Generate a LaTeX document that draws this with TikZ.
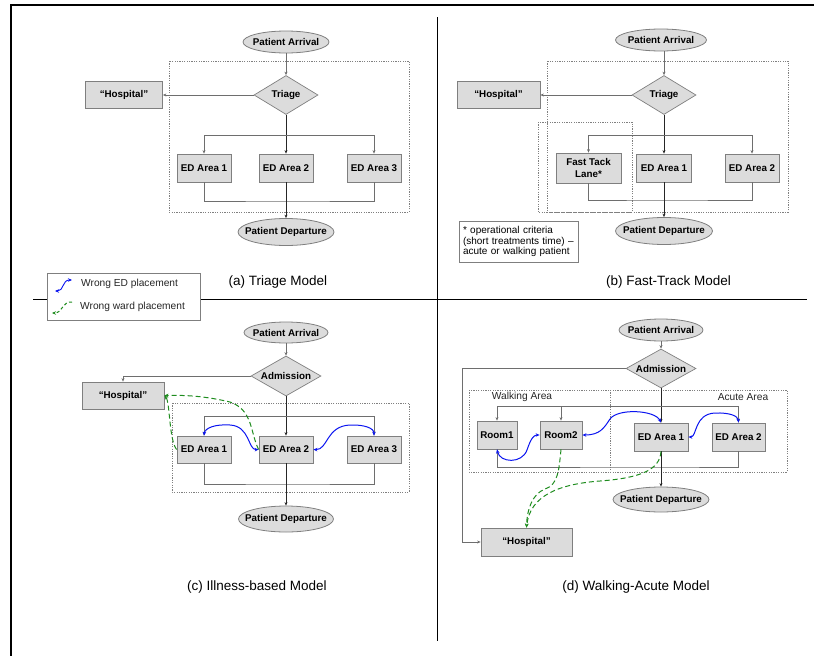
\documentclass[tikz,border=0pt]{standalone}
\usepackage{fontspec}
\setmainfont{Liberation Sans}
\usetikzlibrary{shapes.geometric,arrows.meta}
\definecolor{boxfill}{HTML}{DCDCDC}
\definecolor{boxline}{HTML}{7F7F7F}
\definecolor{flowgray}{HTML}{6E6E6E}
\definecolor{edblue}{HTML}{0A14F0}
\definecolor{wardgreen}{HTML}{1E8C1E}
% text that must not widen an ellipse or diamond
\newcommand\flattext[1]{\makebox[0pt]{#1}}

\begin{document}
\begin{tikzpicture}[x=1pt,y=-1pt,
  nodefont/.style={font=\fontsize{9.8}{11.5}\selectfont\bfseries},
  box/.style={rectangle, draw=boxline, fill=boxfill, line width=0.8pt, inner sep=0pt, align=center, nodefont},
  term/.style={ellipse, draw=boxline, fill=boxfill, line width=0.8pt, inner sep=0pt, nodefont},
  decision/.style={diamond, draw=boxline, fill=boxfill, line width=0.7pt, inner sep=0pt, nodefont},
  flow/.style={draw=flowgray, line width=0.7pt},
  spine/.style={draw=black!85, line width=1pt},
  tip/.style={-{Stealth[length=3.5pt,width=3pt]}},
  zone/.style={draw=gray, line width=0.5pt, dash pattern=on 1.2pt off 1.2pt},
  moveED/.style={draw=edblue, line width=1pt, {Stealth[length=4pt,width=3.5pt]}-{Stealth[length=4pt,width=3.5pt]}},
  moveWard/.style={draw=wardgreen, line width=1pt, dash pattern=on 5pt off 3pt, -{Stealth[length=4pt,width=3.5pt]}},
  caption/.style={font=\fontsize{13.5}{16}\selectfont, inner sep=0pt},
  note/.style={font=\fontsize{10.2}{11}\selectfont, inner sep=0pt, text=black!85},
]
\useasboundingbox (0,0) rectangle (814,656);

% ---------- frame and quadrant dividers ----------
\draw[line width=1.4pt] (814,5) -- (11,5) -- (11,656);
\draw[line width=1pt] (437.5,17) -- (437.5,641);
\draw[line width=1pt] (33,299) -- (807,299);

% ---------- legend ----------
\node[draw=boxline, fill=white, line width=0.6pt, minimum width=153pt, minimum height=47pt, inner sep=0pt] (legend) at (123.5,296.5) {};
\coordinate (lgB1) at (55,291);
\coordinate (lgB2) at (72,280);
\draw[moveED, line width=0.9pt] (lgB1) .. controls (64,291) and (62,280) .. (lgB2);
\node[note, anchor=west] (lgBt) at (81,283.5) {Wrong ED placement};
\coordinate (lgG1) at (72,302);
\coordinate (lgG2) at (52,313);
\draw[moveWard, dash pattern=on 3pt off 2.5pt] (lgG1) .. controls (62,301) and (63,313) .. (lgG2);
\node[note, anchor=west] (lgGt) at (80,307) {Wrong ward placement};

% ---------- (a) Triage model ----------
\draw[zone] (169,61) rectangle (409,212);
\node[term, minimum width=86pt, minimum height=22pt] (aArr) at (286,42) {\flattext{Patient Arrival}};
\node[decision, minimum width=64pt, minimum height=39pt] (aTri) at (286,95) {\flattext{Triage}};
\node[box, minimum width=77pt, minimum height=27pt] (aHos) at (124,95) {“Hospital”};
\node[box, minimum width=54pt, minimum height=28pt] (aE1) at (204,168) {ED Area 1};
\node[box, minimum width=54pt, minimum height=28pt] (aE2) at (286,168) {ED Area 2};
\node[box, minimum width=54pt, minimum height=28pt] (aE3) at (374,168) {ED Area 3};
\node[term, minimum width=96pt, minimum height=27pt] (aDep) at (286,232) {\flattext{Patient Departure}};
\node[caption] (aCap) at (278,282) {(a) Triage Model};
\coordinate (aBr) at (286,135);
\coordinate (aMg) at (286,201);
\draw[flow,tip] (aArr.south) -- (aTri.north);
\draw[flow,tip] (aTri.west) -- (aHos.east);
\draw[spine,tip] (aTri.south) -- (aE2.north);
\draw[flow,tip] (aBr) -| (aE1.north);
\draw[flow,tip] (aBr) -| (aE3.north);
\draw[flow] (aE1.south) |- (aMg) -| (aE3.south);
\draw[spine,tip] (aE2.south) -- (aDep.north);

% ---------- (b) Fast-track model ----------
\draw[zone] (547,61) rectangle (788,212);
\draw[zone] (538,122) rectangle (632,212);
\node[term, minimum width=91pt, minimum height=22pt] (bArr) at (661,40) {\flattext{Patient Arrival}};
\node[decision, minimum width=64pt, minimum height=39pt] (bTri) at (664,95) {\flattext{Triage}};
\node[box, minimum width=83pt, minimum height=27pt] (bHos) at (498.5,95) {“Hospital”};
\node[box, minimum width=65pt, minimum height=30pt] (bFT) at (588.5,168) {Fast Tack\\Lane*};
\node[box, minimum width=55pt, minimum height=28pt] (bE1) at (664,168) {ED Area 1};
\node[box, minimum width=54pt, minimum height=28pt] (bE2) at (752,168) {ED Area 2};
\node[term, minimum width=97pt, minimum height=27pt] (bDep) at (664,231) {\flattext{Patient Departure}};
\node[draw=boxline, fill=white, line width=0.6pt, text width=111pt, minimum height=41pt, inner sep=4pt, align=left,
      font=\fontsize{10}{10.6}\selectfont] (bNote) at (518.5,241.5)
      {* operational criteria\\(short treatments time) –\\acute or walking patient};
\node[caption] (bCap) at (668.5,282) {(b) Fast-Track Model};
\coordinate (bBr) at (664,135);
\coordinate (bMg) at (664,200);
\draw[flow,tip] (bArr.south -| bTri.north) -- (bTri.north);
\draw[flow,tip] (bTri.west) -- (bHos.east);
\draw[spine,tip] (bTri.south) -- (bE1.north);
\draw[flow,tip] (bBr) -| (bFT.north);
\draw[flow,tip] (bBr) -| (bE2.north);
\draw[flow] (bFT.south) |- (bMg) -| (bE2.south);
\draw[spine,tip] (bE1.south) -- (bDep.north);

% ---------- (c) Illness-based model ----------
\draw[zone] (172,403) rectangle (409,492);
\node[term, minimum width=84pt, minimum height=21pt] (cArr) at (286,332.5) {\flattext{Patient Arrival}};
\node[decision, minimum width=70pt, minimum height=40pt] (cAdm) at (286,376) {\flattext{Admission}};
\node[box, minimum width=82pt, minimum height=27pt] (cHos) at (123,395.5) {“Hospital”};
\node[box, minimum width=54pt, minimum height=27pt] (cE1) at (204,449.5) {ED Area 1};
\node[box, minimum width=54pt, minimum height=27pt] (cE2) at (286,449.5) {ED Area 2};
\node[box, minimum width=54pt, minimum height=27pt] (cE3) at (374,449.5) {ED Area 3};
\node[term, minimum width=95pt, minimum height=26pt] (cDep) at (286,519) {\flattext{Patient Departure}};
\node[caption] (cCap) at (257,587) {(c) Illness-based Model};
\coordinate (cBr) at (286,416);
\coordinate (cMg) at (286,484);
\draw[flow,tip] (cArr.south) -- (cAdm.north);
\draw[flow,tip] (cAdm.west) -| (cHos.north);
\draw[spine,tip] (cAdm.south) -- (cE2.north);
\draw[flow,tip] (cBr) -| (cE1.north);
\draw[flow,tip] (cBr) -| (cE3.north);
\draw[flow] (cE1.south) |- (cMg) -| (cE3.south);
\draw[spine,tip] (cE2.south) -- (cDep.north);
% transfers between ED areas
\draw[moveED] (cE2.west) .. controls (248,450) and (250,426) .. (230,425)
                         .. controls (215,424) and (205,428) .. (cE1.north);
\draw[moveED] (cE2.east) .. controls (328,450) and (326,426) .. (350,425)
                         .. controls (364,424.5) and (374,428) .. (cE3.north);
% transfers to the ward
\draw[moveWard] (cE2.west) .. controls (250,432) and (253,410) .. (230,402)
                           .. controls (205,396) and (185,395) .. (cHos.east);
\draw[moveWard] (cE1.west) .. controls (169,440) and (170,402) .. (cHos.east);

% ---------- (d) Walking-acute model ----------
\draw[zone] (469,390) rectangle (787,472);
\draw[zone] (610,390) -- (610,472);
\node[note] (dWalk) at (522,397) {Walking Area};
\node[note] (dAcute) at (743,397) {Acute Area};
\node[term, minimum width=84pt, minimum height=22pt] (dArr) at (661,330) {\flattext{Patient Arrival}};
\node[decision, minimum width=70pt, minimum height=39pt] (dAdm) at (661,368.5) {\flattext{Admission}};
\node[box, minimum width=91pt, minimum height=28pt] (dHos) at (526.5,542) {“Hospital”};
\node[box, minimum width=40pt, minimum height=28pt] (dR1) at (497,435) {Room1};
\node[box, minimum width=42pt, minimum height=28pt] (dR2) at (561,435) {Room2};
\node[box, minimum width=54pt, minimum height=28pt] (dE1) at (661,437) {ED Area 1};
\node[box, minimum width=53pt, minimum height=28pt] (dE2) at (738.5,437) {ED Area 2};
\node[term, minimum width=96pt, minimum height=25pt] (dDep) at (661,499.5) {\flattext{Patient Departure}};
\node[caption] (dCap) at (636,587) {(d) Walking-Acute Model};
\coordinate (dTurn) at (462,368.5);
\coordinate (dBr) at (661,406);
\coordinate (dMg) at (661,467);
\draw[flow,tip] (dArr.south) -- (dAdm.north);
\draw[flow,tip] (dAdm.west) -- (dTurn) |- (dHos.west);
\draw[spine,tip] (dAdm.south) -- (dE1.north);
\draw[flow,tip] (dBr) -| (dR1.north);
\draw[flow,tip] (dBr) -| (dR2.north);
\draw[flow,tip] (dBr) -| (dE2.north);
\draw[flow] (dR1.south) |- (dMg) -| (dE2.south);
\draw[spine,tip] (dE1.south) -- (dDep.north);
% transfers between rooms and areas
\draw[moveED] (dR1.south) .. controls (500,463) and (522,464) .. (527,450)
                          .. controls (531,438) and (534,435) .. (dR2.west);
\draw[moveED] (dR2.east) .. controls (600,435) and (604,428) .. (610,419)
                         .. controls (618,408) and (655,410) .. (dE1.north);
\draw[moveED] (dE1.east) .. controls (697,437) and (694,414) .. (715,413)
                         .. controls (730,412.5) and (738,416) .. (dE2.north);
% transfers to the ward
\draw[moveWard] (dR2.south) .. controls (559,470) and (558,485) .. (545,489)
                            .. controls (532,494) and (527,510) .. (dHos.north);
\draw[moveWard] (dE1.south) .. controls (660,470) and (640,478) .. (600,481)
                            .. controls (560,484) and (530,495) .. (dHos.north);
\end{tikzpicture}
\end{document}
